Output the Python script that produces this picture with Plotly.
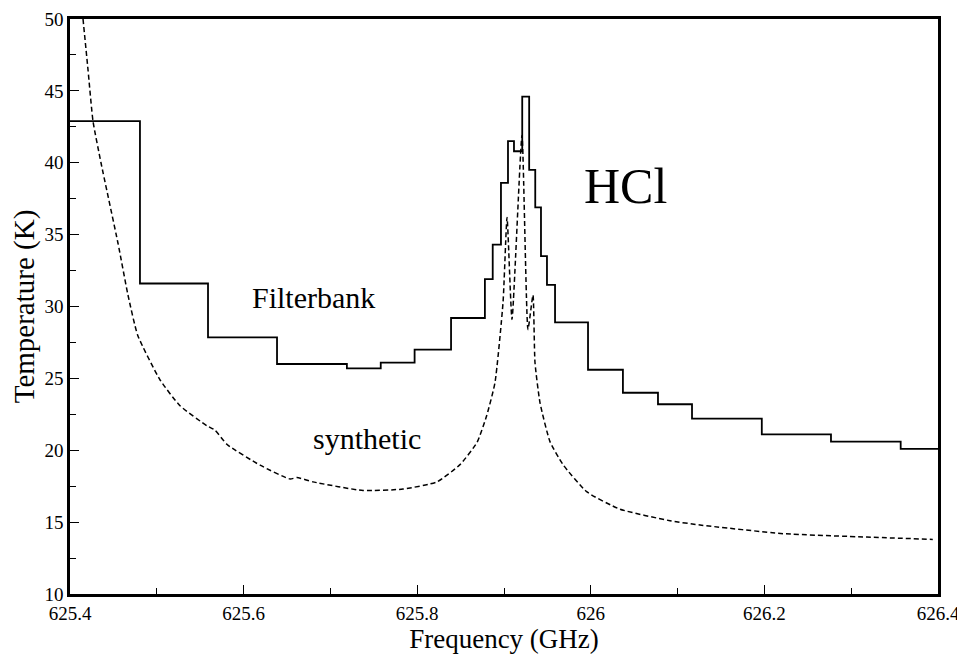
import plotly.graph_objects as go

# Filterbank channel edges (GHz) and brightness temperatures (K)
fb_edges = [625.4, 625.4806, 625.559, 625.6385, 625.719, 625.758, 625.797, 625.839,
            625.878, 625.887, 625.8965, 625.9046, 625.9115, 625.921, 625.929, 625.936,
            625.9426, 625.9495, 625.9588, 625.9968, 626.037, 626.0774, 626.1166,
            626.197, 626.2767, 626.357, 626.4]
fb_temps = [42.9, 31.6, 27.85, 26.0, 25.7, 26.1, 27.0, 29.2, 31.9, 34.3, 38.6, 41.5,
            40.8, 44.6, 39.5, 36.9, 33.5, 31.5, 28.9, 25.6, 24.0, 23.2, 22.2, 21.1,
            20.6, 20.1]

# Synthetic spectrum
syn_freq = [625.415, 625.4207, 625.4265, 625.4357, 625.4553, 625.4668, 625.478,
            625.5037, 625.5267, 625.5578, 625.567, 625.581, 625.619, 625.6535,
            625.6615, 625.680, 625.7376, 625.7836, 625.8228, 625.8493, 625.869,
            625.880, 625.8896, 625.8989, 625.9035, 625.9092, 625.9207, 625.9276,
            625.9334, 625.9357, 625.9415, 625.953, 625.968, 625.9956, 626.0336,
            626.0912, 626.1258, 626.2214, 626.318, 626.394]
syn_temp = [50.0, 46.5, 42.9, 40.0, 34.4, 30.8, 28.0, 24.9, 23.1, 21.7, 21.4, 20.4,
            18.96, 18.0, 18.1, 17.8, 17.2, 17.3, 17.8, 19.0, 20.55, 22.4, 24.7, 30.3,
            36.2, 29.1, 41.9, 28.4, 30.8, 26.1, 23.3, 20.6, 19.0, 17.1, 15.9, 15.1,
            14.8, 14.2, 13.96, 13.8]

x_ticks = [625.4, 625.6, 625.8, 626.0, 626.2, 626.4]
x_labels = ["625.4", "625.6", "625.8", "626", "626.2", "626.4"]
y_ticks = [10, 15, 20, 25, 30, 35, 40, 45, 50]

FONT = "Liberation Serif, Times New Roman, serif"

fig = go.Figure()
fig.add_trace(go.Scatter(
    x=fb_edges, y=fb_temps + [fb_temps[-1]], mode="lines", line_shape="hv",
    line=dict(color="black", width=1.8), showlegend=False))
fig.add_trace(go.Scatter(
    x=syn_freq, y=syn_temp, mode="lines", line_shape="spline",
    line=dict(color="black", width=1.5, dash="5px,3px", smoothing=0.5),
    showlegend=False))

fig.add_annotation(x=626.04, y=38.4, text="HCl", showarrow=False,
                   font=dict(family=FONT, size=50, color="black"))
fig.add_annotation(x=625.68, y=30.6, text="Filterbank", showarrow=False,
                   font=dict(family=FONT, size=30, color="black"))
fig.add_annotation(x=625.742, y=20.8, text="synthetic", showarrow=False,
                   font=dict(family=FONT, size=30, color="black"))

# page body adds an 8px offset, so the figure is made 8px smaller
fig.update_layout(
    width=957, height=650,
    margin=dict(l=62, r=27, t=11, b=64, autoexpand=False),
    paper_bgcolor="white", plot_bgcolor="white",
    font=dict(family=FONT, color="black", size=18),
)
fig.update_xaxes(
    range=[625.4, 626.4], tickvals=x_ticks, ticktext=x_labels,
    ticks="inside", ticklen=9, tickwidth=1.2, tickcolor="black",
    minor=dict(dtick=0.1, tick0=625.4, ticks="inside", ticklen=6, tickcolor="black"),
    showline=True, linewidth=2.5, linecolor="black", mirror=True,
    showgrid=False, zeroline=False, automargin=False, ticklabeloverflow="allow",
    title=dict(text="Frequency (GHz)", font=dict(family=FONT, size=27), standoff=4),
    tickfont=dict(family=FONT, size=19),
)
fig.update_yaxes(
    range=[10, 50], tickvals=y_ticks,
    ticks="inside", ticklen=9, tickwidth=1.2, tickcolor="black",
    minor=dict(dtick=2.5, tick0=10, ticks="inside", ticklen=6, tickcolor="black"),
    showline=True, linewidth=2.5, linecolor="black", mirror=True,
    showgrid=False, zeroline=False, automargin=False, ticklabeloverflow="allow",
    title=dict(text="Temperature (K)", font=dict(family=FONT, size=29), standoff=2),
    tickfont=dict(family=FONT, size=19),
)

fig.write_html("out.html")
